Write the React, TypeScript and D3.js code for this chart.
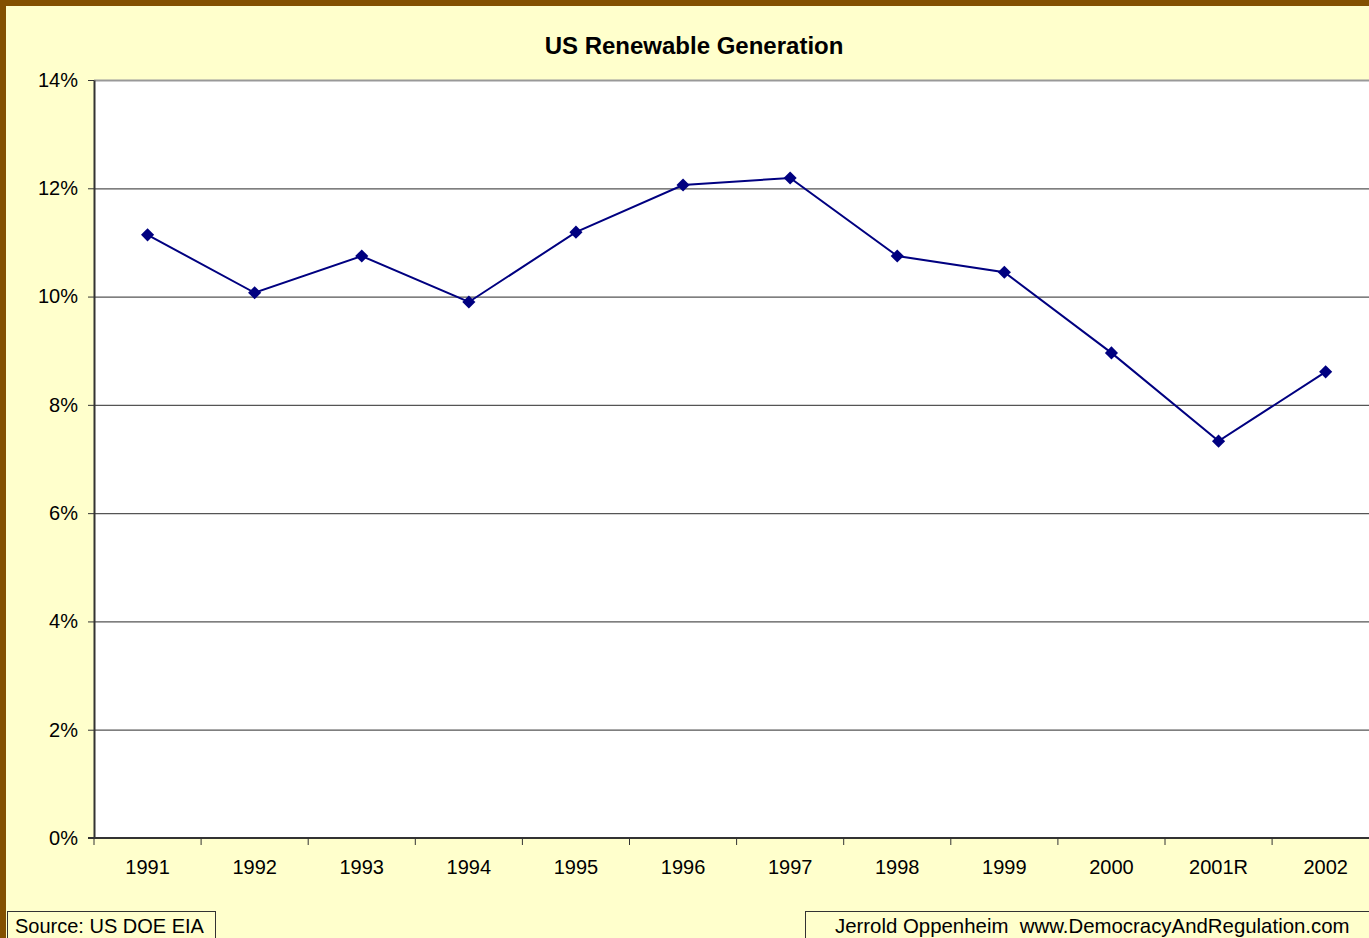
import React, { useRef, useEffect } from "react";
import * as d3 from "d3";

const years = ["1991", "1992", "1993", "1994", "1995", "1996", "1997", "1998", "1999", "2000", "2001R", "2002"];
const renewableShare = [11.14, 10.07, 10.75, 9.9, 11.19, 12.06, 12.19, 10.75, 10.45, 8.96, 7.33, 8.61];
const yTicks = [0, 2, 4, 6, 8, 10, 12, 14];

const W = 1369;
const H = 938;
const FONT = "Arial, 'Liberation Sans', sans-serif";

const App = () => {
  const svgRef = useRef<SVGSVGElement>(null);

  useEffect(() => {
    const svg = d3.select(svgRef.current);
    svg.selectAll("*").remove();

    const plot = { left: 94, top: 80, bottom: 838, band: 107.1 };
    const right = plot.left + plot.band * years.length;

    // background and border
    svg.append("rect").attr("width", W).attr("height", H).attr("fill", "#835000");
    svg.append("rect").attr("x", 6).attr("y", 6).attr("width", W).attr("height", H).attr("fill", "#FFFFCC");

    const x = d3.scaleBand().domain(years).range([plot.left, right]);
    const y = d3.scaleLinear().domain([0, 14]).range([plot.bottom, plot.top]);

    // plot area
    svg.append("rect")
      .attr("x", plot.left).attr("y", plot.top)
      .attr("width", right - plot.left).attr("height", plot.bottom - plot.top)
      .attr("fill", "#fff");

    // gridlines
    svg.append("g")
      .selectAll("line")
      .data(yTicks.filter((t) => t > 0))
      .enter()
      .append("line")
      .attr("x1", plot.left).attr("x2", right)
      .attr("y1", (d) => y(d) + 0.5).attr("y2", (d) => y(d) + 0.5)
      .attr("stroke", (d) => (d === 14 ? "#999" : "#555"))
      .attr("stroke-width", (d) => (d === 14 ? 2 : 1.2));

    // y axis
    const yAxis = svg.append("g")
      .attr("transform", `translate(${plot.left},0)`)
      .call(d3.axisLeft(y).tickValues(yTicks).tickSize(6).tickSizeOuter(0).tickFormat((d) => `${d}%`).tickPadding(10));
    yAxis.select(".domain").attr("stroke", "#333").attr("stroke-width", 2);
    yAxis.selectAll(".tick line").attr("stroke", "#333");
    yAxis.selectAll("text").attr("font-family", FONT).attr("font-size", 20).attr("fill", "#000");

    // x axis
    const xAxis = svg.append("g").attr("transform", `translate(0,${plot.bottom})`);
    xAxis.append("line")
      .attr("x1", plot.left - 6).attr("x2", right)
      .attr("y1", 0).attr("y2", 0)
      .attr("stroke", "#333").attr("stroke-width", 2);
    xAxis.selectAll("line.tick")
      .data(d3.range(years.length + 1))
      .enter()
      .append("line")
      .attr("class", "tick")
      .attr("x1", (i) => plot.left + i * x.bandwidth())
      .attr("x2", (i) => plot.left + i * x.bandwidth())
      .attr("y1", 0).attr("y2", 7)
      .attr("stroke", "#333");
    xAxis.selectAll("text")
      .data(years)
      .enter()
      .append("text")
      .attr("x", (d) => x(d)! + x.bandwidth() / 2)
      .attr("y", 36)
      .attr("text-anchor", "middle")
      .attr("font-family", FONT)
      .attr("font-size", 20)
      .text((d) => d);

    // line
    const line = d3.line<number>()
      .x((_, i) => x(years[i])! + x.bandwidth() / 2)
      .y((d) => y(d));
    svg.append("path")
      .datum(renewableShare)
      .attr("d", line)
      .attr("fill", "none")
      .attr("stroke", "#000080")
      .attr("stroke-width", 2);

    svg.append("g")
      .selectAll("path")
      .data(renewableShare)
      .enter()
      .append("path")
      .attr("d", d3.symbol().type(d3.symbolDiamond2).size(110))
      .attr("transform", (d, i) => `translate(${x(years[i])! + x.bandwidth() / 2},${y(d)})`)
      .attr("fill", "#000080");

    // title
    svg.append("text")
      .attr("x", 694).attr("y", 54)
      .attr("text-anchor", "middle")
      .attr("font-family", FONT)
      .attr("font-size", 24)
      .attr("font-weight", "bold")
      .text("US Renewable Generation");

    // footnote boxes
    svg.append("rect").attr("x", 7.5).attr("y", 911.5).attr("width", 208).attr("height", 40)
      .attr("fill", "#FFFFCC").attr("stroke", "#333");
    svg.append("text").attr("x", 15).attr("y", 933)
      .attr("font-family", FONT).attr("font-size", 20).text("Source: US DOE EIA");

    svg.append("rect").attr("x", 805.5).attr("y", 911.5).attr("width", 600).attr("height", 40)
      .attr("fill", "#FFFFCC").attr("stroke", "#333");
    svg.append("text").attr("x", 835).attr("y", 933)
      .attr("font-family", FONT).attr("font-size", 20.4).text("Jerrold Oppenheim  www.DemocracyAndRegulation.com")
      .attr("xml:space", "preserve");
  }, []);

  return (
    <svg
      ref={svgRef}
      width={W}
      height={H}
      style={{ position: "fixed", left: 0, top: 0, display: "block" }}
    ></svg>
  );
};

export default App;
